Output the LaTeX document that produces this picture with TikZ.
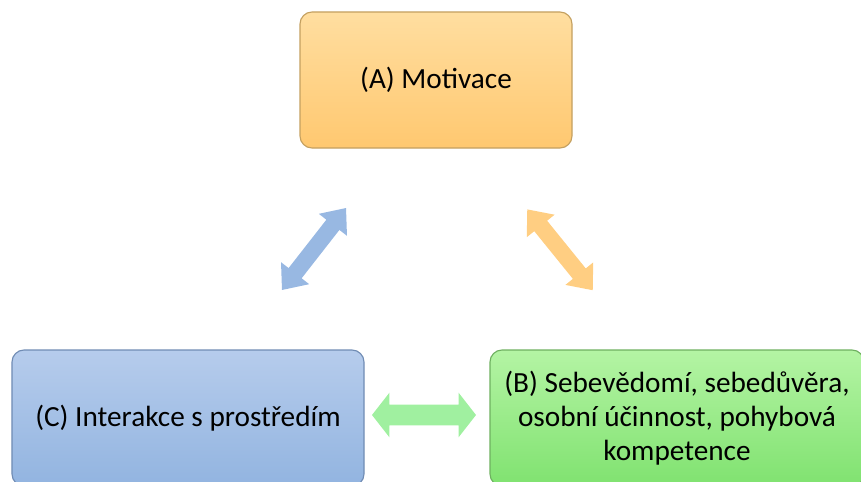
\documentclass[tikz,border=0pt]{standalone}
\usepackage{fontspec}
\setmainfont{Carlito}
\usetikzlibrary{shapes.arrows}
\definecolor{motivtop}{RGB}{255,222,160}
\definecolor{motivbot}{RGB}{255,200,112}
\definecolor{motivline}{RGB}{196,160,96}
\definecolor{intertop}{RGB}{182,204,236}
\definecolor{interbot}{RGB}{146,180,224}
\definecolor{interline}{RGB}{112,140,180}
\definecolor{sebetop}{RGB}{180,244,164}
\definecolor{sebebot}{RGB}{128,226,112}
\definecolor{sebeline}{RGB}{110,176,96}
\definecolor{bluearrow}{RGB}{152,184,226}
\definecolor{orangearrow}{RGB}{255,206,130}
\definecolor{greenarrow}{RGB}{160,240,160}

\begin{document}
\begin{tikzpicture}[
	box/.style={rounded corners=0.3cm, line width=0.8pt, minimum height=3.4cm, align=center, inner sep=0pt, font=\fontsize{20.8}{24}\selectfont},
	fatarrow/.style={double arrow, inner xsep=0pt, outer sep=0pt, minimum height=2.6cm}
]
	\useasboundingbox (0,0) rectangle (21.525,12.025);
	\clip (0,0) rectangle (21.525,12.025);
	
	% boxes
	\node[box, draw=motivline, top color=motivtop, bottom color=motivbot, minimum width=6.8cm] (motivace) at (10.9,10.025) {(A) Motivace};
	\node[box, draw=interline, top color=intertop, bottom color=interbot, minimum width=8.8cm] (interakce) at (4.7,1.575) {(C) Interakce s prostředím};
	\node[box, draw=sebeline, top color=sebetop, bottom color=sebebot, minimum width=9.35cm] (sebe) at (16.925,1.575) {(B) Sebevědomí, sebedůvěra,\\osobní účinnost, pohybová\\kompetence};
	
	% block arrows
	\node[fatarrow, fill=bluearrow, inner ysep=0.2cm, double arrow head extend=0.24cm, double arrow tip angle=80, rotate=52] (ca) at (7.85,5.8) {};
	\node[fatarrow, fill=orangearrow, inner ysep=0.2cm, double arrow head extend=0.24cm, double arrow tip angle=80, rotate=-51] (ab) at (14.0,5.78) {};
	\node[fatarrow, fill=greenarrow, inner ysep=0.25cm, double arrow head extend=0.3cm, double arrow tip angle=104] (cb) at (10.6,1.65) {};
	
\end{tikzpicture}
\end{document}
